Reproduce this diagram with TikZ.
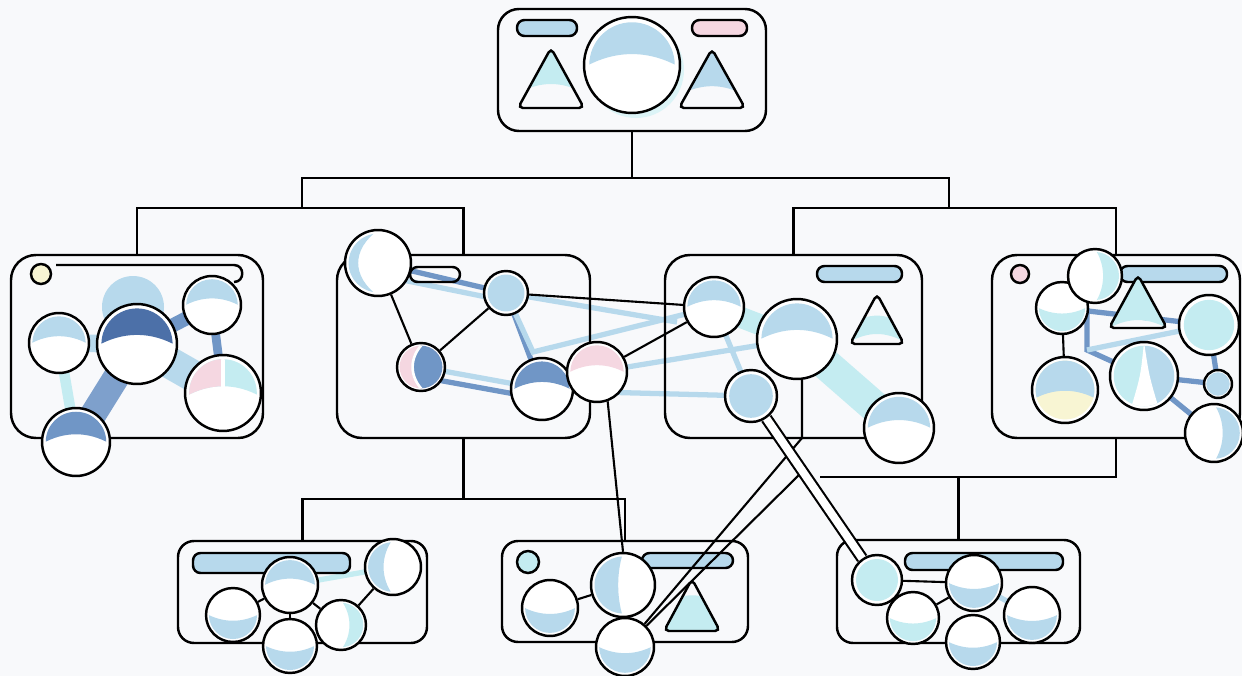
\documentclass[tikz,border=0pt]{standalone}
\usetikzlibrary{calc}

\definecolor{paper}{HTML}{F8F9FB}
\definecolor{lblue}{HTML}{B7D9EC}
\definecolor{lcyan}{HTML}{C4ECF1}
\definecolor{mblue}{HTML}{7096C6}
\definecolor{dblue}{HTML}{4C70A8}
\definecolor{lpink}{HTML}{F5D7E1}
\definecolor{lyell}{HTML}{F8F5D3}

\pgfdeclarelayer{back}
\pgfdeclarelayer{under}
\pgfsetlayers{back,under,main}

% cap of a bubble, above a curve that sits at #1 (fraction of radius)
\newcommand{\domepath}[1]{(-\bubr,#1*\bubr) .. controls (-0.35*\bubr,{(#1-0.37)*\bubr}) and (0.35*\bubr,{(#1-0.37)*\bubr}) .. (\bubr,#1*\bubr) -- (\bubr,-\bubr) -- (-\bubr,-\bubr) -- cycle}

% triangle: apex x, apex y, half width, height, colour, band top, band bottom
\newcommand{\tri}[7]{%
    \begin{scope}
        \clip[rounded corners=0.1cm] (#1,#2) -- ({#1+#3},{#2+#4}) -- ({#1-#3},{#2+#4}) -- cycle;
        \fill[#5] ({#1-#3},{#2+#6*#4}) .. controls ({#1-0.3*#3},{#2+(#6-0.25)*#4}) and ({#1+0.3*#3},{#2+(#6-0.25)*#4}) .. ({#1+#3},{#2+#6*#4})
            -- ({#1+#3},{#2+#7*#4}) .. controls ({#1+0.3*#3},{#2+(#7-0.2)*#4}) and ({#1-0.3*#3},{#2+(#7-0.2)*#4}) .. ({#1-#3},{#2+#7*#4}) -- cycle;
    \end{scope}
    \draw[line width=1.4pt, rounded corners=0.1cm] (#1,#2) -- ({#1+#3},{#2+#4}) -- ({#1-#3},{#2+#4}) -- cycle;
}

\tikzset{
    panel/.style 2 args={draw, line width=1.4pt, rounded corners=0.5cm, inner sep=0pt,
        minimum width=#1*0.02cm, minimum height=#2*0.02cm},
    pill/.style={draw, line width=1.4pt, rounded corners=0.15cm},
    link/.style={line width=1.2pt},
    bub/.style={circle, draw, line width=1.4pt, fill=white, inner sep=0pt,
        minimum size=#1*0.04cm, /utils/exec={\def\bubr{#1}}},
    dome/.style={path picture={
        \begin{scope}[shift={(path picture bounding box.center)}]
            \clip (0,0) circle[radius=0.89*\bubr];
            \fill[#1] \domepath{0.05};
        \end{scope}}},
    bowl/.style={path picture={
        \begin{scope}[shift={(path picture bounding box.center)}]
            \clip (0,0) circle[radius=0.89*\bubr];
            \fill[#1] (-\bubr,-0.05*\bubr) .. controls (-0.35*\bubr,0.3*\bubr) and (0.35*\bubr,0.3*\bubr) .. (\bubr,-0.05*\bubr) -- (\bubr,\bubr) -- (-\bubr,\bubr) -- cycle;
        \end{scope}}},
    full/.style={path picture={
        \fill[#1] (path picture bounding box.center) circle[radius=0.84*\bubr];}},
    cres/.style args={#1/#2/#3}{path picture={
        \begin{scope}[shift={(path picture bounding box.center)}]
            \clip (0,0) circle[radius=0.89*\bubr];
            \fill[#1] (0,-\bubr) .. controls ({#2*\bubr},-0.4*\bubr) and ({#2*\bubr},0.4*\bubr) .. (0,\bubr) -- ({#3*\bubr},\bubr) -- ({#3*\bubr},-\bubr) -- cycle;
        \end{scope}}},
    halves/.style 2 args={path picture={
        \begin{scope}[shift={(path picture bounding box.center)}]
            \clip (0,0) circle[radius=0.89*\bubr];
            \fill[#2] \domepath{0.1};
            \begin{scope}
                \clip (-\bubr,-\bubr) rectangle (0,\bubr);
                \fill[#1] \domepath{0.1};
            \end{scope}
            \draw[white, line width=2pt] (0,-\bubr) -- (0,\bubr);
        \end{scope}}},
    moon/.style={path picture={
        \begin{scope}[shift={(path picture bounding box.center)}]
            \clip (0,0) circle[radius=0.89*\bubr];
            \fill[lpink] (0,0) circle[radius=\bubr];
            \fill[mblue] (0.1*\bubr,-\bubr) .. controls (-0.5*\bubr,-0.4*\bubr) and (-0.5*\bubr,0.4*\bubr) .. (0.1*\bubr,\bubr) -- (\bubr,\bubr) -- (\bubr,-\bubr) -- cycle;
            \draw[white, line width=1.5pt] (0.1*\bubr,-\bubr) .. controls (-0.5*\bubr,-0.4*\bubr) and (-0.5*\bubr,0.4*\bubr) .. (0.1*\bubr,\bubr);
        \end{scope}}},
    twotone/.style={path picture={
        \begin{scope}[shift={(path picture bounding box.center)}]
            \clip (0,0) circle[radius=0.89*\bubr];
            \fill[lyell] (0,0) circle[radius=\bubr];
            \fill[lblue] \domepath{0.3};
        \end{scope}}},
    fan/.style={path picture={
        \begin{scope}[shift={(path picture bounding box.center)}]
            \clip (0,0) circle[radius=0.89*\bubr];
            \fill[lcyan] (-\bubr,-\bubr) rectangle (0,\bubr);
            \fill[lblue] (0,-\bubr) rectangle (\bubr,\bubr);
            \fill[white] (0,-\bubr) .. controls (-0.1*\bubr,0) .. (-0.4*\bubr,\bubr) -- (0.45*\bubr,\bubr) .. controls (0.15*\bubr,0) .. (0,-\bubr) -- cycle;
        \end{scope}}},
}

\begin{document}
\begin{tikzpicture}[x=0.02cm, y=-0.02cm]
    \begin{pgfonlayer}{back}
        \fill[paper] (0,0) rectangle (1242,676);
    \end{pgfonlayer}
    \useasboundingbox (0,0) rectangle (1242,676);

    % panels
    \node[panel={268}{122}, rounded corners=0.42cm] (top) at (632,70) {};
    \node[panel={252}{183}] (P1) at (137,346.5) {};
    \node[panel={253}{183}] (P2) at (463.5,346.5) {};
    \node[panel={257}{183}] (P3) at (793.5,346.5) {};
    \node[panel={248}{183}] (P4) at (1116,346.5) {};
    \node[panel={249}{102}, rounded corners=0.32cm] (B1) at (302.5,592) {};
    \node[panel={246}{101}, rounded corners=0.32cm] (B2) at (625,591.5) {};
    \node[panel={243}{103}, rounded corners=0.32cm] (B3) at (958.5,591.5) {};

    % tree
    \coordinate (busA) at (302,208);
    \coordinate (busB) at (949,208);
    \coordinate (busC) at (463.5,499);
    \coordinate (busD) at (958.5,477);
    \coordinate (busE) at (820,477);
    \draw[link] (top.south) -- ++(0,46) -| (busA);
    \draw[link] (top.south) -- ++(0,46) -| (busB);
    \draw[link] (P1.north) |- (busA) -| (P2.north);
    \draw[link] (P3.north) |- (busB) -| (P4.north);
    \draw[link] (P2.south) -- (busC) -| (B1.north);
    \draw[link] (busC) -| (B2.north);
    \draw[link] (P4.south) |- (busE);
    \draw[link] (busD) -- (B3.north);

    % bars
    \draw[pill, fill=lblue] (517,20) rectangle (577,36);
    \draw[pill, fill=lpink] (692,20) rectangle (747,36);
    \draw[line width=1.4pt] (56,265) -- (234,265) .. controls (245,265) and (245,282) .. (234,282);
    \draw[pill] (410,267) rectangle (460,282);
    \draw[pill, fill=lblue] (817,266) rectangle (902,282);
    \draw[pill, fill=lblue] (1120,266) rectangle (1227,282);
    \draw[pill, fill=lblue] (193,553) rectangle (350,573);
    \draw[pill, fill=lblue] (642,553) rectangle (733,568);
    \draw[pill, fill=lblue] (905,553) rectangle (1063,570);

    % triangles
    \tri{551}{48}{33}{60}{lcyan}{0}{0.75}
    \tri{712}{49}{33}{59}{lblue}{0}{0.78}
    \tri{877}{294}{27}{50}{lcyan}{0.62}{0.95}
    \tri{1138}{275}{29}{53}{lcyan}{0.2}{1.0}
    \tri{692}{579}{28}{52}{lcyan}{0.5}{1.2}

    % top
    \fill[lcyan!60] (636,70) circle[radius=48];
    \node[bub=48, dome=lblue] (TC) at (632,65) {};

    % P1
    \node[bub=10, fill=lyell] (Y) at (41,274) {};
    \node[bub=30, dome=lblue] (A) at (59,343) {};
    \node[bub=40, dome=dblue] (B) at (137,344) {};
    \node[bub=29, dome=lblue] (C) at (212,305) {};
    \node[bub=38, halves={lpink}{lcyan}] (D) at (223,393) {};
    \node[bub=34, dome=mblue] (E) at (76,442) {};

    % P2
    \node[bub=33, cres={lblue/-0.8/-1}] (F) at (378,263) {};
    \node[bub=22, full=lblue] (G) at (506,293) {};
    \node[bub=24, moon] (H) at (421,367) {};
    \node[bub=31, dome=mblue] (I) at (542,389) {};
    \node[bub=30, dome=lpink] (J) at (597,372) {};

    % P3
    \node[bub=30, dome=lblue] (K) at (714,307) {};
    \node[bub=40, dome=lblue] (L) at (797,339) {};
    \node[bub=26, full=lblue] (M) at (751,396) {};
    \node[bub=35, dome=lblue] (N) at (899,428) {};

    % P4
    \node[bub=9, fill=lpink] (Pk) at (1020,274) {};
    \node[bub=26, bowl=lcyan] (R2) at (1062,308) {};
    \node[bub=27, cres={lcyan/0.4/1}] (R1) at (1095,276) {};
    \node[bub=30, full=lcyan] (R3) at (1209,325) {};
    \node[bub=33, twotone] (R4) at (1065,390) {};
    \node[bub=34, fan] (R5) at (1144,376) {};
    \node[bub=14, full=lblue] (R6) at (1218,384) {};
    \node[bub=29, cres={lblue/0.4/1}] (R7) at (1214,433) {};

    % B1
    \node[bub=28, dome=lblue] (S1) at (290,585) {};
    \node[bub=27, bowl=lblue] (S2) at (233,615) {};
    \node[bub=27, bowl=lblue] (S3) at (290,646) {};
    \node[bub=25, cres={lcyan/0.45/1}] (S4) at (341,625) {};
    \node[bub=28, cres={lblue/-0.45/-1}] (S5) at (393,567) {};

    % B2
    \node[bub=11, fill=lcyan] (Cy) at (528,562) {};
    \node[bub=32, cres={lblue/-0.2/-1}] (T1) at (623,585) {};
    \node[bub=28, bowl=lblue] (T2) at (550,608) {};
    \node[bub=29, bowl=lblue] (T3) at (625,647) {};

    % B3
    \node[bub=25, full=lcyan] (U1) at (877,580) {};
    \node[bub=26, bowl=lcyan] (U2) at (913,618) {};
    \node[bub=28, bowl=lblue] (U3) at (974,583) {};
    \node[bub=28, bowl=lblue] (U4) at (1032,615) {};
    \node[bub=27, bowl=lblue] (U5) at (973,642) {};

    % links behind the bubbles
    \begin{pgfonlayer}{under}
        \fill[lblue] (133,307) circle[radius=31];
        \draw[lblue, line width=10pt] (A.center) -- (B.center);
        \draw[lblue, line width=18pt] (B.center) -- (D.center);
        \draw[lcyan, line width=6pt] (A.center) -- (E.center);
        \draw[mblue!90, line width=15pt] (E.center) -- (B.center);
        \draw[mblue, line width=8pt] (B.center) -- (C.center);
        \draw[mblue, line width=5pt] (C.center) -- (D.center);

        \coordinate (gk) at (533,352);
        \coordinate (gt) at (677,322);
        \draw[mblue, line width=3pt] (F.center) -- (G.center);
        \draw[lblue, line width=3pt] ($(F.center)+(0,12)$) -- ($(G.center)+(0,8)$);
        \draw[mblue, line width=3pt] (G.center) -- (I.center);
        \draw[lblue, line width=3pt] (G.center) -- (gk) -- (K.center);
        \draw[lblue, line width=3pt] (G.center) -- (gt);
        \draw[lblue, line width=3pt] (H.center) -- (I.center);
        \draw[mblue, line width=3pt] ($(H.center)+(0,10)$) -- ($(I.center)+(0,10)$);
        \draw[lblue, line width=3pt] (J.center) -- (L.center);
        \draw[lblue, line width=3pt] ($(J.center)+(0,20)$) -- (M.center);
        \draw[lcyan, line width=12pt] (K.center) -- (L.center);
        \draw[lcyan, line width=18pt] (L.center) -- (N.center);
        \draw[lblue, line width=3pt] (K.center) -- (M.center);
        \draw[link] (F) -- (H);
        \draw[link] (H) -- (G);
        \draw[link] (G) -- (K);
        \draw[link] (J) -- (K);

        \coordinate (rk) at (1087,350);
        \draw[mblue, line width=3pt] (R2.center) -- (R3.center);
        \draw[mblue, line width=3pt] (rk |- R2.center) -- (rk) -- (R5.center);
        \draw[lblue, line width=3pt] (rk) -- (R3.center);
        \draw[mblue, line width=3pt] (R5.center) -- (R6.center);
        \draw[mblue, line width=3pt] (R5.center) -- (R7.center);
        \draw[mblue, line width=3pt] (R3.center) -- (R6.center);
        \draw[link] (R2) -- (R4);

        \draw[lcyan, line width=3pt] (S1.center) -- (S5.center);
        \draw[link] (S1) -- (S2);
        \draw[link] (S1) -- (S3);
        \draw[link] (S1) -- (S4);
        \draw[link] (S4) -- (S5);
        \draw[link] (T1) -- (T2);
        \draw[link] (U1) -- (U3);
        \draw[link] (U2) -- (U3);
        \draw[lblue, line width=3pt] (U3.center) -- (U4.center);
    \end{pgfonlayer}

    % long links
    \coordinate (lk) at (802,438);
    \coordinate (lk2) at (802,472);
    \draw[link] (J.-70) -- (T1.north);
    \draw[link] (L.-83) |- (lk) -- (T3);
    \draw[link] (lk2) -- (T3);
    \draw[line width=1.2pt, double=white, double distance=4.5pt] (M) -- (U1);
\end{tikzpicture}
\end{document}
